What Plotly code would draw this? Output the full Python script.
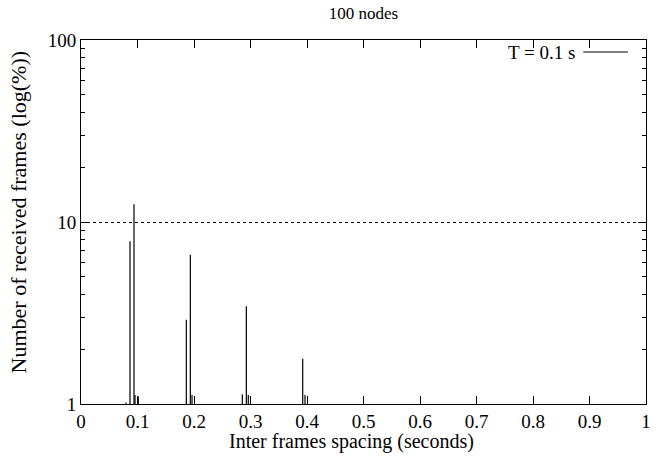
import plotly.graph_objects as go

spacing = [0.0796, 0.0867, 0.0938, 0.0956, 0.1014, 0.1864, 0.1935, 0.1965,
           0.2855, 0.2926, 0.2961, 0.3924, 0.3965]
percent = [1.02, 7.83, 12.5, 1.12, 1.1, 2.9, 6.6, 1.12,
           1.13, 3.44, 1.12, 1.77, 1.12]
series_name = "T = 0.1 s"
x_ticks = [0, 0.1, 0.2, 0.3, 0.4, 0.5, 0.6, 0.7, 0.8, 0.9, 1]
x_tick_labels = ["0", "0.1", "0.2", "0.3", "0.4", "0.5", "0.6", "0.7", "0.8", "0.9", "1"]
y_ticks = [1, 10, 100]

# impulses: vertical segments from the axis base (1) up to each value
xs, ys = [], []
for x, v in zip(spacing, percent):
    xs += [x, x, None]
    ys += [1, v, None]

font = "Liberation Serif"
fig = go.Figure()
fig.add_trace(go.Scatter(x=xs, y=ys, mode="lines", name=series_name,
                         line=dict(color="black", width=1.2), showlegend=False))

fig.update_layout(
    width=660, height=461,
    margin=dict(l=81, r=14, t=40, b=57),
    plot_bgcolor="white", paper_bgcolor="white",
    font=dict(family=font, size=19, color="black"),
    title=dict(text="100 nodes", x=0.5, xref="paper", xanchor="center",
               y=1, yref="container", yanchor="top", pad=dict(t=7),
               font=dict(family=font, size=17)),
    xaxis=dict(range=[0, 1], tickvals=x_ticks, ticktext=x_tick_labels,
               ticks="inside", ticklen=8, tickcolor="black", mirror="ticks",
               showline=True, linecolor="black", linewidth=1, showgrid=False,
               zeroline=False, tickfont=dict(size=19), automargin=False),
    yaxis=dict(type="log", range=[0, 2], tickvals=y_ticks,
               ticks="inside", ticklen=8, tickcolor="black", mirror="ticks",
               showline=True, linecolor="black", linewidth=1,
               showgrid=True, gridcolor="black", griddash="dot", gridwidth=1,
               zeroline=False, tickfont=dict(size=19), automargin=False,
               minor=dict(ticks="inside", ticklen=4, tickcolor="black",
                          dtick="D1", showgrid=False)),
    annotations=[
        dict(text=series_name, xref="paper", yref="paper",
             x=0.877, y=0.967, xanchor="right", yanchor="middle",
             showarrow=False, font=dict(family=font, size=19)),
        dict(text="Inter frames spacing (seconds)", xref="paper", yref="paper",
             x=0.478, y=-0.102, xanchor="center", yanchor="middle",
             showarrow=False, font=dict(family=font, size=20)),
        dict(text="Number of received frames (log(%))", xref="paper", yref="paper",
             x=-0.111, y=0.527, xanchor="center", yanchor="middle", textangle=-90,
             showarrow=False, font=dict(family=font, size=22)),
    ],
    shapes=[dict(type="line", xref="paper", yref="paper",
                 x0=0.889, x1=0.968, y0=0.967, y1=0.967,
                 line=dict(color="black", width=1))],
)

fig.write_html("out.html", config={"displayModeBar": False},
               post_script="document.body.style.margin='0';")
